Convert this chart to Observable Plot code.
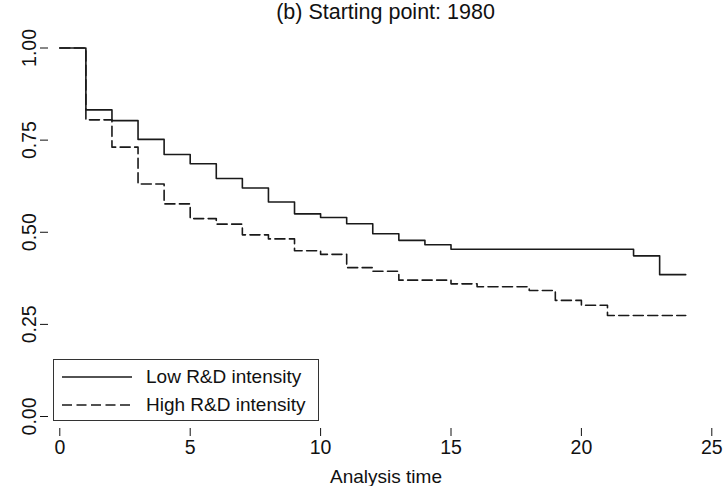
<!DOCTYPE html>
<html>
<head>
<meta charset="utf-8">
<script src="https://cdn.jsdelivr.net/npm/d3@7"></script>
<script src="https://cdn.jsdelivr.net/npm/@observablehq/plot@0.6"></script>
<style>
  html, body { margin: 0; padding: 0; background: #fff; }
  #wrap { position: relative; width: 725px; height: 486px; font-family: "Liberation Sans", Arial, Helvetica, sans-serif; color: #111; }
  #title { position: absolute; left: 48px; width: 675px; top: 0; text-align: center; font-size: 21.5px; line-height: 24px; }
  #legend { position: absolute; left: 53px; top: 359px; width: 266px; height: 62px; border: 1.2px solid #333; box-sizing: border-box; background: #fff; }
  .row { position: absolute; left: 0; height: 26px; display: flex; align-items: center; font-size: 19px; }
  .row svg { margin-left: 8px; margin-right: 14px; }
</style>
</head>
<body>
<div id="wrap">
  <div id="title"></div>
  <div id="chart"></div>
  <div id="legend"></div>
</div>
<script>
// Kaplan–Meier survival estimates by R&D intensity, cohort starting in 1980
const titleText = "(b) Starting point: 1980";
const xLabel = "Analysis time";
const groups = ["Low R&D intensity", "High R&D intensity"];

const lowTime = [0, 1, 2, 3, 4, 5, 6, 7, 8, 9, 10, 11, 12, 13, 14, 15, 22, 23, 24];
const lowSurv = [1, 0.832, 0.803, 0.752, 0.711, 0.686, 0.646, 0.620, 0.582, 0.550, 0.540, 0.523, 0.496, 0.478, 0.466, 0.454, 0.436, 0.385, 0.385];

const highTime = [0, 1, 2, 3, 4, 5, 6, 7, 8, 9, 10, 11, 12, 13, 15, 16, 18, 19, 20, 21, 24];
const highSurv = [1, 0.805, 0.731, 0.631, 0.577, 0.537, 0.522, 0.493, 0.482, 0.450, 0.440, 0.404, 0.394, 0.370, 0.360, 0.352, 0.342, 0.315, 0.302, 0.274, 0.274];

const xTicks = [0, 5, 10, 15, 20, 25];
const yTicks = [0, 0.25, 0.5, 0.75, 1];

const lineColor = "#1a1a1a";
const dash = {[groups[0]]: null, [groups[1]]: "10,4.5"};

const lowRows = lowTime.map((t, i) => ({t, s: lowSurv[i], group: groups[0]}));
const highRows = highTime.map((t, i) => ({t, s: highSurv[i], group: groups[1]}));

document.getElementById("title").textContent = titleText;

const chart = Plot.plot({
  width: 725,
  height: 486,
  marginTop: 35,
  marginBottom: 58,
  marginLeft: 48,
  marginRight: 2,
  style: {fontFamily: "'Liberation Sans', Arial, Helvetica, sans-serif", fontSize: "19.5px", color: "#111", background: "transparent"},
  x: {domain: [0, 25], insetLeft: 11.3, insetRight: 11.7},
  y: {domain: [0, 1], insetTop: 12.5, insetBottom: 12},
  marks: [
    Plot.axisY({
      ticks: yTicks,
      tickFormat: d3.format(".2f"),
      tickSize: 8,
      tickPadding: 5,
      tickRotate: -90,
      textAnchor: "middle",
      lineAnchor: "bottom",
      line: true,
      label: null,
      stroke: "#111"
    }),
    Plot.axisX({
      ticks: xTicks,
      tickFormat: d3.format("d"),
      tickSize: 8,
      tickPadding: 4,
      line: true,
      label: null,
      stroke: "#111"
    }),
    Plot.text([xLabel], {frameAnchor: "bottom", dy: 54, lineAnchor: "bottom", fontSize: 19, fill: "#111"}),
    Plot.line(lowRows, {x: "t", y: "s", curve: "step-after", stroke: lineColor, strokeWidth: 1.6}),
    Plot.line(highRows, {x: "t", y: "s", curve: "step-after", stroke: lineColor, strokeWidth: 1.6, strokeDasharray: dash[groups[1]]})
  ]
});
document.getElementById("chart").appendChild(chart);

// Legend box inside the plot area
const legend = document.getElementById("legend");
groups.forEach((g, i) => {
  const row = document.createElement("div");
  row.className = "row";
  row.style.top = (4 + i * 28) + "px";
  const sw = d3.create("svg").attr("width", 70).attr("height", 10);
  sw.append("line").attr("x1", 0).attr("x2", 70).attr("y1", 5).attr("y2", 5)
    .attr("stroke", lineColor).attr("stroke-width", 1.6)
    .attr("stroke-dasharray", dash[g]);
  row.appendChild(sw.node());
  const label = document.createElement("span");
  label.textContent = g;
  row.appendChild(label);
  legend.appendChild(row);
});
</script>
</body>
</html>
